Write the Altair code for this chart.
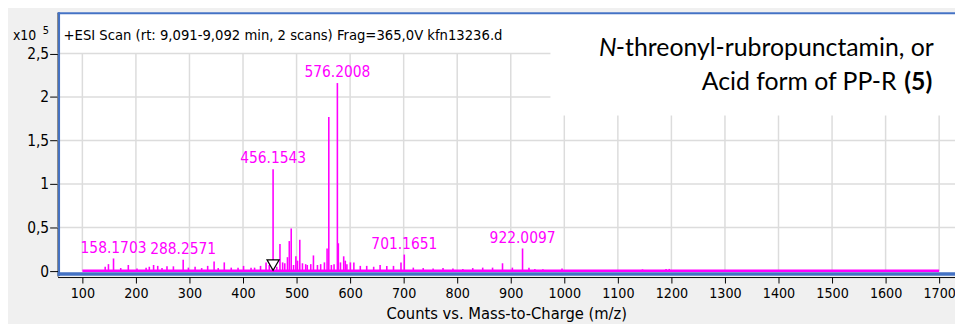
import altair as alt
import pandas as pd

# ---------------- data (intensities in units of 10^5 counts) ----------------
peak_mz = [142.6, 148.7, 158.1703, 171.6, 185.8, 202.0, 219.0, 225.0, 233.0, 240.7,
           248.7, 258.0, 270.0, 288.2571, 298.0, 310.5, 322.8, 334.0, 346.0, 353.7,
           365.0, 378.0, 390.7, 401.0, 415.0, 421.6, 432.7, 443.0, 449.0, 456.1543,
           463.0, 469.0, 474.0, 478.0, 483.0, 486.4, 490.0, 494.4, 498.7, 501.8,
           506.0, 511.0, 517.0, 520.0, 526.5, 531.5, 539.0, 545.0, 552.0, 557.0,
           560.2, 565.0, 570.0, 576.2008, 578.0, 582.0, 588.0, 591.0, 594.0, 600.5,
           607.0, 619.0, 631.0, 644.0, 656.0, 668.5, 681.0, 695.0, 701.1651, 718.0,
           736.5, 755.0, 773.5, 792.0, 810.5, 829.0, 847.6, 866.0, 884.6, 903.0,
           922.0097, 934.0, 945.0, 960.0, 995.7, 1146.0, 1190.0, 1196.0]
peak_int = [0.05, 0.08, 0.145, 0.035, 0.07, 0.03, 0.04, 0.05, 0.07, 0.06,
            0.035, 0.055, 0.055, 0.13, 0.04, 0.05, 0.035, 0.06, 0.11, 0.035,
            0.10, 0.04, 0.04, 0.06, 0.04, 0.04, 0.06, 0.10, 0.07, 1.17,
            0.05, 0.31, 0.10, 0.09, 0.16, 0.345, 0.49, 0.07, 0.17, 0.12,
            0.36, 0.09, 0.08, 0.07, 0.08, 0.18, 0.07, 0.08, 0.10, 0.26,
            1.77, 0.07, 0.08, 2.16, 0.32, 0.10, 0.17, 0.12, 0.08, 0.10,
            0.10, 0.06, 0.06, 0.05, 0.07, 0.06, 0.06, 0.10, 0.19, 0.04,
            0.035, 0.03, 0.035, 0.03, 0.025, 0.035, 0.04, 0.04, 0.09, 0.04,
            0.26, 0.04, 0.025, 0.02, 0.03, 0.02, 0.025, 0.025]

label_mz = [158.1703, 288.2571, 456.1543, 576.2008, 701.1651, 922.0097]
label_int = [0.145, 0.13, 1.17, 2.16, 0.19, 0.26]
label_text = ["158.1703", "288.2571", "456.1543", "576.2008", "701.1651", "922.0097"]

precursor_mz = [456.1543]

baseline_start = [100]
baseline_end = [1700]
baseline_level = [0.004]

x_ticks = [100, 200, 300, 400, 500, 600, 700, 800, 900, 1000, 1100, 1200, 1300,
           1400, 1500, 1600, 1700]
y_ticks = [0, 0.5, 1, 1.5, 2, 2.5]
y_grid_top = 2.5

scan_title = "+ESI Scan (rt: 9,091-9,092 min, 2 scans) Frag=365,0V kfn13236.d"
x_title = "Counts vs. Mass-to-Charge (m/z)"

# ---------------- layout / style ----------------
W, H = 905, 266
XDOM = [53.7, 1729.6]
YDOM = [-0.057, 2.9727]
NARROW = "DejaVu Sans Condensed, Liberation Sans Narrow, sans-serif"
ANN = "Lato, Open Sans, sans-serif"
MAG = "#ff00ff"
BLUE = "#4472c4"
GRID = "#dcdcdc"

xs = alt.Scale(domain=XDOM, nice=False, zero=False)
ys = alt.Scale(domain=YDOM, nice=False, zero=False)

xaxis = alt.Axis(values=x_ticks, grid=False, format="d", domainColor="black",
                 tickColor="black", tickSize=6, offset=1, labelFont=NARROW,
                 labelFontSize=14.3, labelColor="black", labelPadding=4,
                 labelFlush=False, labelOverlap=False, title=x_title,
                 titleFont=NARROW, titleFontSize=16.5, titleFontWeight="normal",
                 titleColor="black", titlePadding=4)
yaxis = alt.Axis(values=y_ticks, grid=False,
                 labelExpr="replace(format(datum.value, '~g'), '.', ',')",
                 domainColor="black", tickColor="black", tickSize=8,
                 labelPadding=1, labelFont=NARROW, labelFontSize=15.5,
                 labelColor="black", title=None)

X = lambda f: alt.X(f, type="quantitative", scale=xs, axis=xaxis)
Y = lambda f: alt.Y(f, type="quantitative", scale=ys, axis=yaxis)

peaks_df = pd.DataFrame({"mz": peak_mz, "int": peak_int, "zero": 0.0})
labels_df = pd.DataFrame({"mz": label_mz, "int": label_int, "text": label_text})
prec_df = pd.DataFrame({"mz": precursor_mz, "int": [0.0] * len(precursor_mz)})
base_df = pd.DataFrame({"mz": baseline_start, "mz2": baseline_end, "int": baseline_level})
vgrid_df = pd.DataFrame({"mz": x_ticks, "int": [0.0] * len(x_ticks),
                         "top": [y_grid_top] * len(x_ticks)})
hgrid_df = pd.DataFrame({"int": y_ticks[1:]})
one = pd.DataFrame({"a": [0]})

vgrid = alt.Chart(vgrid_df).mark_rule(color=GRID, strokeWidth=1.5).encode(
    x=X("mz"), y=Y("int"), y2="top")
hgrid = alt.Chart(hgrid_df).mark_rule(color=GRID, strokeWidth=1.5).encode(
    y=Y("int"), x=alt.value(0), x2=alt.value(W))

box = alt.Chart(one).mark_rect(color="white").encode(
    x=alt.value(497), x2=alt.value(W), y=alt.value(1), y2=alt.value(104))

ANN_SIZE = 25
ann_N = alt.Chart(one).mark_text(text="N", font=ANN, fontSize=ANN_SIZE, fontStyle="italic",
                                 align="left", baseline="alphabetic", color="black").encode(
    x=alt.value(546), y=alt.value(44))
ann_1 = alt.Chart(one).mark_text(text="-threonyl-rubropunctamin, or", font=ANN,
                                 fontSize=ANN_SIZE, align="left", baseline="alphabetic",
                                 color="black").encode(
    x=alt.value(563), y=alt.value(44))
ann_2 = alt.Chart(one).mark_text(text="Acid form of PP-R", font=ANN, fontSize=ANN_SIZE,
                                 align="right", baseline="alphabetic", color="black").encode(
    x=alt.value(846), y=alt.value(78))
ann_5 = alt.Chart(one).mark_text(text="(5)", font=ANN, fontSize=ANN_SIZE, fontWeight="bold",
                                 align="right", baseline="alphabetic", color="black").encode(
    x=alt.value(882), y=alt.value(78))

title_t = alt.Chart(one).mark_text(text=scan_title, font=NARROW, fontSize=14.8,
                                   align="left", baseline="alphabetic", color="black").encode(
    x=alt.value(6), y=alt.value(28))
x10 = alt.Chart(one).mark_text(text="x10", font=NARROW, fontSize=14, align="left",
                               baseline="alphabetic", color="black").encode(
    x=alt.value(-45), y=alt.value(28))
x10e = alt.Chart(one).mark_text(text="5", font=NARROW, fontSize=11, align="left",
                                baseline="alphabetic", color="black").encode(
    x=alt.value(-15), y=alt.value(22))

base = alt.Chart(base_df).mark_rule(color=MAG, strokeWidth=2.5).encode(
    x=X("mz"), x2="mz2", y=Y("int"))
peaks = alt.Chart(peaks_df).mark_rule(color=MAG, strokeWidth=1.6).encode(
    x=X("mz"), y=Y("zero"), y2="int")
labels = alt.Chart(labels_df).mark_text(font=NARROW, fontSize=15.5, color=MAG,
                                        align="center", baseline="alphabetic", dy=-6).encode(
    x=X("mz"), y=Y("int"), text="text")
prec = alt.Chart(prec_df).mark_point(shape="triangle-down", filled=True, fill="white",
                                     stroke="black", strokeWidth=1.2, size=150,
                                     opacity=1, yOffset=-6).encode(
    x=X("mz"), y=Y("int"))

frame_top = alt.Chart(one).mark_rule(color=BLUE, strokeWidth=2).encode(
    x=alt.value(0), x2=alt.value(W), y=alt.value(1))
frame_left = alt.Chart(one).mark_rule(color=BLUE, strokeWidth=2).encode(
    x=alt.value(1.5), y=alt.value(0), y2=alt.value(H))
frame_bot = alt.Chart(one).mark_rule(color=BLUE, strokeWidth=3.5).encode(
    x=alt.value(0), x2=alt.value(W), y=alt.value(H - 2))

chart = alt.layer(
    vgrid, hgrid, box, ann_N, ann_1, ann_2, ann_5, title_t, base, peaks, labels,
    prec, frame_top, frame_left, frame_bot, x10, x10e
).properties(
    width=W, height=H,
    autosize=alt.AutoSizeParams(type="none"),
    padding={"left": 50, "top": 3, "right": 0, "bottom": 47},
    background="#f0f0f0",
).configure_view(fill="white", stroke=None)

chart.save("out.html", embed_options={"renderer": "svg", "actions": False})
